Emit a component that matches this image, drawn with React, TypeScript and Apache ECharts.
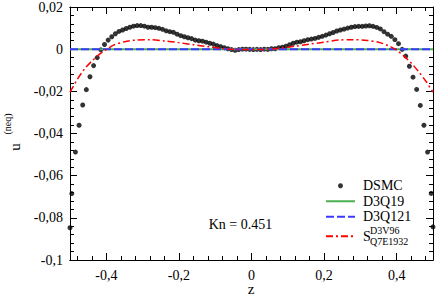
import React, { useEffect, useRef } from "react";
import * as echarts from "echarts";

const dsmcZ = [
  -0.5, -0.495, -0.485, -0.475, -0.465, -0.455, -0.445, -0.435, -0.425, -0.415,
  -0.405, -0.395, -0.385, -0.375, -0.365, -0.355, -0.345, -0.335, -0.325, -0.315,
  -0.305, -0.295, -0.285, -0.275, -0.265, -0.255, -0.245, -0.235, -0.225, -0.215,
  -0.205, -0.195, -0.185, -0.175, -0.165, -0.155, -0.145, -0.135, -0.125, -0.115,
  -0.105, -0.095, -0.085, -0.075, -0.065, -0.055, -0.045, -0.035, -0.025, -0.015,
  -0.005, 0.005, 0.015, 0.025, 0.035, 0.045, 0.055, 0.065, 0.075, 0.085,
  0.095, 0.105, 0.115, 0.125, 0.135, 0.145, 0.155, 0.165, 0.175, 0.185,
  0.195, 0.205, 0.215, 0.225, 0.235, 0.245, 0.255, 0.265, 0.275, 0.285,
  0.295, 0.305, 0.315, 0.325, 0.335, 0.345, 0.355, 0.365, 0.375, 0.385,
  0.395, 0.405, 0.415, 0.425, 0.435, 0.445, 0.455, 0.465, 0.475, 0.485,
  0.495, 0.5,
];
const dsmcU = [
  -0.0847, -0.0685, -0.0488, -0.0361, -0.0265, -0.0192, -0.0131, -0.0078, -0.004, -0.0003,
  0.0022, 0.0043, 0.0059, 0.0073, 0.0084, 0.0091, 0.0098, 0.0104, 0.0109, 0.0112,
  0.0112, 0.0109, 0.0104, 0.0104, 0.0102, 0.0099, 0.0094, 0.0087, 0.0083, 0.008,
  0.0071, 0.0064, 0.0059, 0.0054, 0.005, 0.0043, 0.004, 0.0038, 0.0033, 0.0028,
  0.0024, 0.0017, 0.0012, 0.0007, 0.0002, -0.0002, -0.0005, -0.0002, 0.0, 0.0,
  -0.0001, -0.0002, -0.0001, -0.0002, 0.0, -0.0001, 0.0002, 0.0002, 0.0007, 0.0009,
  0.0014, 0.0021, 0.0028, 0.0033, 0.0035, 0.004, 0.0045, 0.0048, 0.0051, 0.0056,
  0.0061, 0.0067, 0.0073, 0.0079, 0.0086, 0.0091, 0.0095, 0.01, 0.0104, 0.0107,
  0.0108, 0.0108, 0.011, 0.0111, 0.0108, 0.0103, 0.0096, 0.0083, 0.0071, 0.0061,
  0.0045, 0.0026, -0.0001, -0.0033, -0.0081, -0.0133, -0.0191, -0.0267, -0.0361, -0.0488,
  -0.0684, -0.0843,
];

const sZ = [
  -0.5, -0.48, -0.46, -0.44, -0.42, -0.4, -0.38, -0.35, -0.32, -0.28, -0.24, -0.2,
  -0.16, -0.12, -0.08, -0.04, 0, 0.04, 0.08, 0.12, 0.16, 0.2, 0.24, 0.28, 0.32,
  0.35, 0.38, 0.4, 0.42, 0.44, 0.46, 0.48, 0.5,
];
const sU = [
  -0.0204, -0.0144, -0.0094, -0.0057, -0.0026, -0.0002, 0.0019, 0.0035, 0.0043, 0.0045,
  0.0039, 0.0031, 0.0021, 0.0012, 0.0003, -0.0001, -0.0002, -0.0001, 0.0005, 0.0014,
  0.0024, 0.0033, 0.0043, 0.0045, 0.0041, 0.0033, 0.0014, -0.0005, -0.0033, -0.0066,
  -0.0106, -0.0151, -0.0204,
];

const d3q19Z = [-0.5, 0.5];
const d3q19U = [0, 0];
const d3q121Z = [-0.5, 0.5];
const d3q121U = [0, 0];

const xMajorTicks = [-0.4, -0.2, 0, 0.2, 0.4];
const xMinorTicks = [
  -0.48, -0.44, -0.36, -0.32, -0.28, -0.24, -0.16, -0.12, -0.08, -0.04,
  0.04, 0.08, 0.12, 0.16, 0.24, 0.28, 0.32, 0.36, 0.44, 0.48,
];

const FONT = "Liberation Serif";
const fmt = (v: number) => String(parseFloat(Number(v).toFixed(3))).replace(".", ",");

const zip = (a: number[], b: number[]) => a.map((v, i) => [v, b[i]]);

export default function App() {
  const ref = useRef<HTMLDivElement>(null);
  useEffect(() => {
    if (!ref.current) return;
    const chart = echarts.init(ref.current, undefined, { renderer: "svg" });
    const axisLine = { show: true, onZero: false, lineStyle: { color: "#000", width: 1 } };
    const baseX = {
      type: "value" as const,
      min: -0.5,
      max: 0.5,
      splitLine: { show: false },
      axisLine,
    };
    const txt = (text: string, x: number, y: number, size: number, align: string, rotation = 0) => ({
      type: "text",
      x,
      y,
      rotation,
      style: {
        text,
        fill: "#000",
        fontFamily: FONT,
        fontSize: size,
        textAlign: align,
        verticalAlign: "middle",
      },
    });
    const hideSym = { opacity: 0 };
    const option: any = {
      animation: false,
      backgroundColor: "#fff",
      grid: { left: 70, right: 3, top: 6, bottom: 39 },
      xAxis: [
        {
          ...baseX,
          position: "bottom",
          axisTick: { show: true, inside: true, length: 7, customValues: xMajorTicks, lineStyle: { color: "#000" } },
          axisLabel: {
            show: true,
            customValues: xMajorTicks,
            formatter: (v: number) => fmt(v),
            color: "#000",
            fontFamily: FONT,
            fontSize: 14,
            margin: 8,
          },
        },
        {
          ...baseX,
          position: "bottom",
          axisTick: { show: true, inside: true, length: 4, customValues: xMinorTicks, lineStyle: { color: "#000" } },
          axisLabel: { show: false },
        },
        {
          ...baseX,
          position: "top",
          axisTick: { show: true, inside: true, length: 7, customValues: xMajorTicks, lineStyle: { color: "#000" } },
          axisLabel: { show: false },
        },
        {
          ...baseX,
          position: "top",
          axisTick: { show: true, inside: true, length: 4, customValues: xMinorTicks, lineStyle: { color: "#000" } },
          axisLabel: { show: false },
        },
      ],
      yAxis: [
        {
          type: "value",
          min: -0.1,
          max: 0.02,
          interval: 0.02,
          position: "left",
          splitLine: { show: false },
          axisLine,
          axisTick: { show: true, inside: true, length: 7, lineStyle: { color: "#000" } },
          minorTick: { show: true, splitNumber: 5, length: 4, lineStyle: { color: "#000" } },
          axisLabel: {
            formatter: (v: number) => fmt(v),
            color: "#000",
            fontFamily: FONT,
            fontSize: 14,
            margin: 7,
          },
        },
        {
          type: "value",
          min: -0.1,
          max: 0.02,
          interval: 0.02,
          position: "right",
          splitLine: { show: false },
          axisLine,
          axisTick: { show: true, inside: true, length: 7, lineStyle: { color: "#000" } },
          minorTick: { show: true, splitNumber: 5, length: 4, lineStyle: { color: "#000" } },
          axisLabel: { show: false },
        },
      ],
      legend: {
        orient: "vertical",
        left: 325,
        top: 178,
        padding: 0,
        itemWidth: 29,
        itemHeight: 5,
        itemGap: 0,
        selectedMode: false,
        textStyle: {
          fontFamily: FONT,
          fontSize: 14,
          color: "#000",
          lineHeight: 15.5,
          padding: [0, 0, 0, 3],
        },
        data: [
          { name: "DSMC" },
          { name: "D3Q19", itemStyle: hideSym },
          { name: "D3Q121", itemStyle: hideSym },
          { name: "S", itemStyle: hideSym, textStyle: { lineHeight: 23.5 } },
        ],
      },
      graphic: [
        txt("Kn = 0.451", 240.5, 224.5, 14, "center"),
        txt("z", 251, 289, 15, "center"),
        txt("u", 15, 147, 15, "center", Math.PI / 2),
        txt("(neq)", 7, 124, 10, "center", Math.PI / 2),
        txt("D3V96", 370, 230, 10, "left"),
        txt("Q7E1932", 370, 241, 10, "left"),
      ],
      series: [
        {
          name: "DSMC",
          type: "scatter",
          data: zip(dsmcZ, dsmcU),
          symbol: "circle",
          symbolSize: 5,
          itemStyle: { color: "#000" },
          z: 2,
        },
        {
          name: "D3Q19",
          type: "line",
          data: zip(d3q19Z, d3q19U),
          symbol: "none",
          showSymbol: false,
          lineStyle: { color: "#4caf50", width: 2 },
          itemStyle: { color: "#4caf50" },
          z: 3,
        },
        {
          name: "D3Q121",
          type: "line",
          data: zip(d3q121Z, d3q121U),
          symbol: "none",
          showSymbol: false,
          lineStyle: { color: "#3a3aff", width: 2, type: [8, 3] },
          itemStyle: { color: "#3a3aff" },
          z: 4,
        },
        {
          name: "S",
          type: "line",
          data: zip(sZ, sU),
          symbol: "none",
          showSymbol: false,
          smooth: 0.3,
          lineStyle: { color: "#ff0000", width: 1.5, type: [7, 3, 2, 3] },
          itemStyle: { color: "#ff0000" },
          z: 5,
        },
      ],
    };
    chart.setOption(option);
    return () => chart.dispose();
  }, []);
  return (
    <div
      ref={ref}
      style={{ position: "fixed", left: 0, top: 0, width: 436, height: 299 }}
    />
  );
}
